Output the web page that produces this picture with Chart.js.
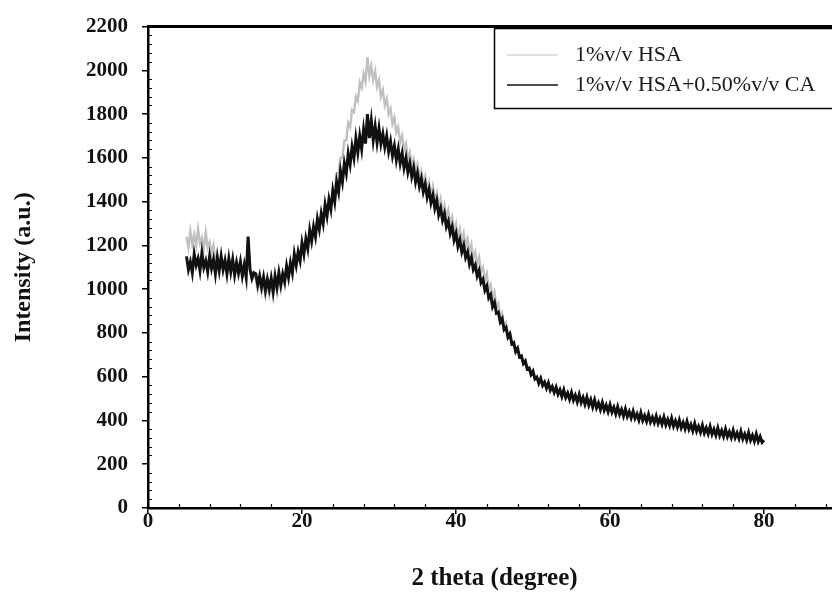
<!DOCTYPE html>
<html>
<head>
<meta charset="utf-8">
<script src="https://cdn.jsdelivr.net/npm/chart.js@4.4.1/dist/chart.umd.min.js"></script>
<style>
  html, body { margin: 0; padding: 0; background: #fff; overflow: hidden; }
</style>
</head>
<body>
<canvas id="chart-xrd" width="860" height="601"></canvas>
<script>
// 2 theta positions (degree)
const twoTheta = [
    5, 5.25, 5.5, 5.75, 6, 6.25, 6.5, 6.75,
    7, 7.25, 7.5, 7.75, 8, 8.25, 8.5, 8.75,
    9, 9.25, 9.5, 9.75, 10, 10.25, 10.5, 10.75,
    11, 11.25, 11.5, 11.75, 12, 12.25, 12.5, 12.75,
    13, 13.25, 13.5, 13.75, 14, 14.25, 14.5, 14.75,
    15, 15.25, 15.5, 15.75, 16, 16.25, 16.5, 16.75,
    17, 17.25, 17.5, 17.75, 18, 18.25, 18.5, 18.75,
    19, 19.25, 19.5, 19.75, 20, 20.25, 20.5, 20.75,
    21, 21.25, 21.5, 21.75, 22, 22.25, 22.5, 22.75,
    23, 23.25, 23.5, 23.75, 24, 24.25, 24.5, 24.75,
    25, 25.25, 25.5, 25.75, 26, 26.25, 26.5, 26.75,
    27, 27.25, 27.5, 27.75, 28, 28.25, 28.5, 28.75,
    29, 29.25, 29.5, 29.75, 30, 30.25, 30.5, 30.75,
    31, 31.25, 31.5, 31.75, 32, 32.25, 32.5, 32.75,
    33, 33.25, 33.5, 33.75, 34, 34.25, 34.5, 34.75,
    35, 35.25, 35.5, 35.75, 36, 36.25, 36.5, 36.75,
    37, 37.25, 37.5, 37.75, 38, 38.25, 38.5, 38.75,
    39, 39.25, 39.5, 39.75, 40, 40.25, 40.5, 40.75,
    41, 41.25, 41.5, 41.75, 42, 42.25, 42.5, 42.75,
    43, 43.25, 43.5, 43.75, 44, 44.25, 44.5, 44.75,
    45, 45.25, 45.5, 45.75, 46, 46.25, 46.5, 46.75,
    47, 47.25, 47.5, 47.75, 48, 48.25, 48.5, 48.75,
    49, 49.25, 49.5, 49.75, 50, 50.25, 50.5, 50.75,
    51, 51.25, 51.5, 51.75, 52, 52.25, 52.5, 52.75,
    53, 53.25, 53.5, 53.75, 54, 54.25, 54.5, 54.75,
    55, 55.25, 55.5, 55.75, 56, 56.25, 56.5, 56.75,
    57, 57.25, 57.5, 57.75, 58, 58.25, 58.5, 58.75,
    59, 59.25, 59.5, 59.75, 60, 60.25, 60.5, 60.75,
    61, 61.25, 61.5, 61.75, 62, 62.25, 62.5, 62.75,
    63, 63.25, 63.5, 63.75, 64, 64.25, 64.5, 64.75,
    65, 65.25, 65.5, 65.75, 66, 66.25, 66.5, 66.75,
    67, 67.25, 67.5, 67.75, 68, 68.25, 68.5, 68.75,
    69, 69.25, 69.5, 69.75, 70, 70.25, 70.5, 70.75,
    71, 71.25, 71.5, 71.75, 72, 72.25, 72.5, 72.75,
    73, 73.25, 73.5, 73.75, 74, 74.25, 74.5, 74.75,
    75, 75.25, 75.5, 75.75, 76, 76.25, 76.5, 76.75,
    77, 77.25, 77.5, 77.75, 78, 78.25, 78.5, 78.75,
    79, 79.25, 79.5, 79.75,
    80
];

// 1%v/v HSA (grey)
const hsa = [
    1240, 1190, 1265, 1205, 1250, 1200, 1275, 1210,
    1235, 1185, 1260, 1190, 1215, 1160, 1200, 1130,
    1150, 1095, 1140, 1085, 1140, 1085, 1130, 1075,
    1130, 1070, 1125, 1065, 1120, 1065, 1115, 1060,
    1225, 1085, 1040, 1065, 1045, 995, 1040, 985,
    1030, 970, 1025, 975, 1030, 965, 1035, 985,
    1055, 1000, 1065, 1020, 1110, 1060, 1115, 1080,
    1155, 1115, 1165, 1135, 1215, 1165, 1225, 1190,
    1265, 1225, 1280, 1245, 1325, 1280, 1340, 1305,
    1380, 1340, 1405, 1375, 1450, 1455, 1530, 1530,
    1600, 1600, 1680, 1680, 1760, 1740, 1820, 1810,
    1880, 1860, 1945, 1920, 1985, 1950, 2060, 1975,
    2020, 1955, 1995, 1925, 1955, 1880, 1910, 1840,
    1870, 1800, 1825, 1755, 1785, 1715, 1740, 1670,
    1700, 1635, 1665, 1595, 1625, 1565, 1595, 1535,
    1570, 1510, 1540, 1480, 1515, 1455, 1490, 1430,
    1470, 1405, 1440, 1380, 1415, 1350, 1385, 1325,
    1360, 1295, 1330, 1265, 1300, 1240, 1275, 1215,
    1255, 1195, 1230, 1170, 1205, 1140, 1170, 1110,
    1145, 1080, 1100, 1040, 1070, 1000, 1020, 955,
    985, 915, 935, 870, 890, 830, 845, 785,
    800, 750, 760, 710, 730, 690, 695, 660,
    672, 635, 640, 610, 625, 590, 598, 570,
    592, 560, 575, 548, 572, 538, 555, 528,
    552, 520, 540, 510, 540, 505, 525, 497,
    527, 493, 515, 485, 518, 482, 505, 474,
    506, 470, 495, 462, 494, 458, 480, 450,
    482, 447, 470, 440, 472, 438, 460, 430,
    462, 428, 450, 420, 452, 418, 440, 412,
    442, 410, 430, 402, 435, 400, 422, 396,
    428, 393, 415, 390, 420, 387, 410, 383,
    415, 380, 404, 377, 410, 374, 398, 370,
    402, 367, 390, 362, 395, 360, 382, 353,
    386, 351, 373, 346, 378, 343, 366, 339,
    372, 337, 360, 333, 366, 331, 354, 327,
    360, 326, 348, 322, 355, 321, 343, 317,
    350, 316, 338, 311, 344, 310, 332, 305,
    338, 304, 326, 300,
    310
];

// 1%v/v HSA+0.50%v/v CA (black)
const hsaCa = [
    1150, 1090, 1125, 1075, 1160, 1110, 1140, 1085,
    1165, 1100, 1130, 1080, 1150, 1095, 1135, 1070,
    1145, 1085, 1150, 1090, 1130, 1070, 1140, 1080,
    1135, 1065, 1120, 1075, 1125, 1060, 1110, 1055,
    1240, 1090, 1050, 1075, 1070, 1020, 1060, 1010,
    1055, 995, 1045, 1000, 1050, 990, 1060, 1010,
    1075, 1020, 1070, 1035, 1105, 1055, 1120, 1075,
    1160, 1110, 1170, 1130, 1210, 1160, 1230, 1185,
    1270, 1220, 1285, 1240, 1320, 1275, 1345, 1300,
    1385, 1335, 1410, 1365, 1450, 1400, 1490, 1445,
    1540, 1490, 1575, 1530, 1620, 1570, 1650, 1600,
    1690, 1625, 1700, 1640, 1730, 1665, 1800, 1690,
    1770, 1680, 1745, 1670, 1735, 1665, 1710, 1650,
    1700, 1630, 1675, 1610, 1655, 1590, 1640, 1575,
    1620, 1555, 1600, 1535, 1575, 1515, 1555, 1490,
    1530, 1470, 1505, 1445, 1480, 1420, 1455, 1395,
    1430, 1370, 1405, 1340, 1370, 1315, 1345, 1285,
    1310, 1255, 1285, 1225, 1255, 1195, 1225, 1170,
    1200, 1145, 1170, 1115, 1145, 1090, 1110, 1060,
    1085, 1030, 1045, 995, 1015, 960, 975, 920,
    940, 890, 895, 850, 865, 815, 825, 780,
    795, 750, 755, 715, 730, 690, 695, 660,
    672, 635, 640, 610, 625, 590, 598, 570,
    592, 560, 575, 548, 572, 538, 555, 528,
    552, 520, 540, 510, 540, 505, 525, 497,
    527, 493, 515, 485, 518, 482, 505, 474,
    506, 470, 495, 462, 494, 458, 480, 450,
    482, 447, 470, 440, 472, 438, 460, 430,
    462, 428, 450, 420, 452, 418, 440, 412,
    442, 410, 430, 402, 435, 400, 422, 396,
    428, 393, 415, 390, 420, 387, 410, 383,
    415, 380, 404, 377, 410, 374, 398, 370,
    402, 367, 390, 362, 395, 360, 382, 353,
    386, 351, 373, 346, 378, 343, 366, 339,
    372, 337, 360, 333, 366, 331, 354, 327,
    360, 326, 348, 322, 355, 321, 343, 317,
    350, 316, 338, 311, 344, 310, 332, 305,
    338, 304, 326, 300,
    310
];

const xTicks = [0, 20, 40, 60, 80];
const seriesLabels = ['1%v/v HSA', '1%v/v HSA+0.50%v/v CA'];

const serif = "'Liberation Serif', 'Times New Roman', serif";

// minor ticks inside the frame + boxed legend
const extras = {
    id: 'extras',
    afterDraw(chart) {
        const { ctx, chartArea: a, scales: { x, y } } = chart;
        ctx.save();
        ctx.strokeStyle = '#000';
        ctx.lineWidth = 1.2;
        ctx.beginPath();
        for (let v = 4; v < 90; v += 4) {
            if (v % 20 === 0) continue;
            const px = Math.round(x.getPixelForValue(v)) + 0.5;
            ctx.moveTo(px, a.bottom);
            ctx.lineTo(px, a.bottom - 4);
        }
        for (let v = 40; v < 2200; v += 40) {
            if (v % 200 === 0) continue;
            const py = Math.round(y.getPixelForValue(v)) + 0.5;
            ctx.moveTo(a.left, py);
            ctx.lineTo(a.left + 4, py);
        }
        ctx.stroke();

        // legend box
        ctx.fillStyle = '#fff';
        ctx.fillRect(494, 28, 400, 80);
        ctx.strokeStyle = '#000';
        ctx.lineWidth = 1.5;
        ctx.strokeRect(494.5, 28.5, 400, 80);
        ctx.font = '22px ' + serif;
        ctx.textBaseline = 'middle';
        chart.data.datasets.forEach((ds, i) => {
            const ly = 55 + i * 30;
            ctx.strokeStyle = ds.borderColor;
            ctx.lineWidth = i === 0 ? 1.2 : 1.6;
            ctx.beginPath();
            ctx.moveTo(507, ly);
            ctx.lineTo(558, ly);
            ctx.stroke();
            ctx.fillStyle = '#1a1a1a';
            ctx.fillText(ds.label, 575, ly);
        });
        ctx.restore();
    }
};

const ctx = document.getElementById('chart-xrd');
new Chart(ctx, {
    type: 'line',
    data: {
        datasets: [{
            label: seriesLabels[0],
            data: twoTheta.map((t, i) => ({ x: t, y: hsa[i] })),
            borderColor: '#c0c0c0',
            borderWidth: 2.4,
            pointRadius: 0,
            tension: 0,
            order: 2
        }, {
            label: seriesLabels[1],
            data: twoTheta.map((t, i) => ({ x: t, y: hsaCa[i] })),
            borderColor: '#111',
            borderWidth: 3,
            pointRadius: 0,
            tension: 0,
            order: 1
        }]
    },
    options: {
        responsive: false,
        animation: false,
        layout: { padding: { right: 19 } },
        plugins: {
            legend: { display: false },
            tooltip: { enabled: false }
        },
        scales: {
            x: {
                type: 'linear',
                min: 0,
                max: 90,
                afterBuildTicks: s => { s.ticks = xTicks.map(v => ({ value: v })); },
                afterFit: s => { s.height = 93; },
                ticks: {
                    color: '#111',
                    font: { family: serif, size: 21, weight: 'bold', lineHeight: 1 },
                    padding: -3,
                    maxRotation: 0,
                    callback: v => String(v)
                },
                grid: { drawOnChartArea: false, color: '#000', lineWidth: 1.5, tickLength: 6 },
                border: { color: '#000', width: 2.5 },
                title: {
                    display: true,
                    text: '2 theta (degree)',
                    color: '#111',
                    font: { family: serif, size: 25, weight: 'bold' },
                    padding: { bottom: 7 }
                }
            },
            xTop: {
                type: 'linear',
                position: 'top',
                min: 0,
                max: 90,
                afterFit: s => { s.height = 19; },
                ticks: { display: false },
                grid: { display: false },
                border: { color: '#000', width: 3 }
            },
            y: {
                min: 0,
                max: 2200,
                afterFit: s => { s.width = 148; },
                ticks: {
                    stepSize: 200,
                    color: '#111',
                    font: { family: serif, size: 21, weight: 'bold' },
                    padding: 14,
                    callback: v => String(v)
                },
                grid: { drawOnChartArea: false, color: '#000', lineWidth: 1.5, tickLength: 6 },
                border: { color: '#000', width: 2.5 },
                title: {
                    display: true,
                    text: 'Intensity (a.u.)',
                    color: '#111',
                    font: { family: serif, size: 24, weight: 'bold' },
                    padding: { top: 9 }
                }
            }
        }
    },
    plugins: [extras]
});
</script>
</body>
</html>
